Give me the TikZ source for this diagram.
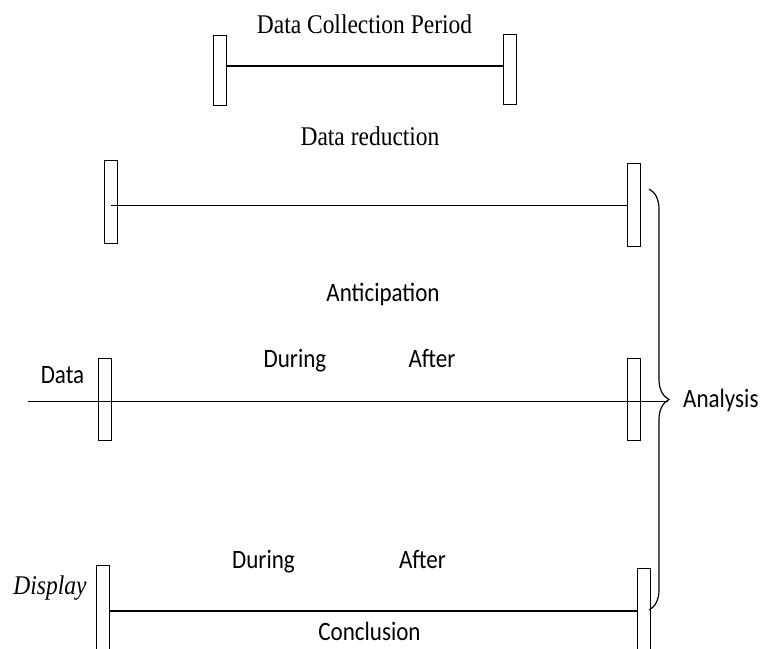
\documentclass[tikz,border=0pt]{standalone}
\usepackage{fontspec}
\setmainfont{Liberation Serif}[FakeStretch=0.87]
\setsansfont{Carlito}[FakeStretch=0.87]
\usepackage{tikz}
\usetikzlibrary{decorations.pathreplacing}
\tikzset{
	endbar/.style={draw, line width=1pt, minimum width=13pt, minimum height=#1, inner sep=0pt},
	endbar/.default=82pt,
	period/.style={line width=1.6pt},
	serifname/.style={font=\fontsize{27}{32}\selectfont, inner sep=0pt, anchor=base},
	sansname/.style={font=\sffamily\fontsize{26.5}{32}\selectfont, inner sep=0pt, anchor=base}
}

\begin{document}
\begin{tikzpicture}[x=1pt, y=-1pt]
	\useasboundingbox (0,0) rectangle (763,648);
	\clip (0,0) rectangle (763,648);
	
	% data collection
	\node [serifname] (collect) at (364.5,33) {Data Collection Period};
	\node [endbar=70pt] (a1) at (220,70) {};
	\node [endbar=70pt] (b1) at (509.5,69.5) {};
	\draw [period] ([yshift=4pt]a1.east) -- ([yshift=4pt]a1.east -| b1.west);
	
	% reduction
	\node [serifname] (reduce) at (370,145) {Data reduction};
	\node [endbar=83pt] (a2) at (111,201.5) {};
	\node [endbar=83pt] (b2) at (634,204.5) {};
	\draw [period] ([yshift=-4pt]a2.center) -- ([yshift=-4pt]a2.center -| b2.west);
	
	% data
	\node [sansname] (antic) at (383,301) {Anticipation};
	\node [sansname] (data) at (62.5,383) {Data};
	\node [sansname] (during1) at (295,367) {During};
	\node [sansname] (after1) at (432,367) {After};
	\node [endbar] (a3) at (105,399) {};
	\node [endbar] (b3) at (634,399) {};
	\coordinate (start) at (28,401.5);
	\coordinate (tip) at (668,401.5);
	\draw [period] (start) -- (tip);
	\node [sansname, anchor=base west] (analysis) at (683,407) {Analysis};
	
	% display
	\node [sansname] (during2) at (263.5,568) {During};
	\node [sansname] (after2) at (422.5,568) {After};
	\node [serifname, font=\itshape\fontsize{27}{32}\selectfont] (display) at (50,594) {Display};
	\node [endbar=90pt] (a4) at (103,610) {};
	\node [endbar=88pt] (b4) at (643.5,612) {};
	\draw [period] ([yshift=-1pt]a4.east) -- ([yshift=-1pt]a4.east -| b4.west);
	\node [sansname] (concl) at (369.5,640) {Conclusion};
	
	\draw [decorate, decoration={brace, amplitude=20pt, aspect=0.5}, line width=1.2pt] (649,189) -- (649,610);
\end{tikzpicture}
\end{document}
